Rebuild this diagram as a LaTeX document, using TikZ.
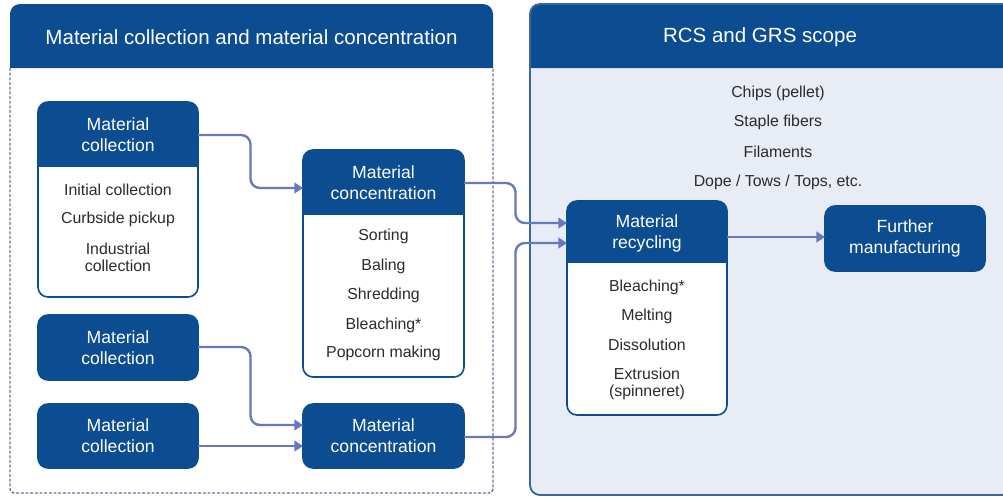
\documentclass[tikz,border=0pt]{standalone}
\usepackage{fontspec}
\setmainfont{Liberation Sans}
\usetikzlibrary{arrows.meta,calc}

\definecolor{hdrblue}{HTML}{0C4D92}
\definecolor{flowblue}{HTML}{6678BE}
\definecolor{scopefill}{HTML}{E7ECF5}
\definecolor{scopeline}{HTML}{3A67A0}
\definecolor{bodytext}{HTML}{2B2B2B}
\definecolor{dashgray}{HTML}{6A7690}

\tikzset{
  paneltitle/.style={text=white, font=\fontsize{15.4}{18}\selectfont, inner sep=0pt},
  boxframe/.style={draw=none, inner sep=0pt, outer sep=0pt},
  boxline/.style={draw=hdrblue, line width=1.2pt},
  headtxt/.style={text=white, align=center, inner sep=0pt,
    font=\fontsize{13.2}{15.8}\selectfont},
  itemtxt/.style={text=bodytext, align=center, inner sep=0pt,
    font=\fontsize{11.9}{12.8}\selectfont},
  flow/.style={draw=flowblue, line width=1.8pt, rounded corners=7pt,
    -{Triangle[length=6.5pt,width=8pt]}},
  elbow/.style={to path={-| ($(\tikztostart)!0.5!(\tikztotarget)$) |- (\tikztotarget)}},
  dashframe/.style={draw=dashgray, line width=1.1pt, dash pattern=on 2.2pt off 1.3pt}
}

% stage box: name, x1, y1, x2, y2, y of header bottom
\newcommand\stagebox[6]{%
  \node[boxframe, minimum width={(#4-#2)*0.75pt}, minimum height={(#5-#3)*0.75pt}]
    (#1) at ({(#2+#4)/2},{(#3+#5)/2}) {};
  \coordinate (#1-hb) at (#4,#6);
  \fill[white, rounded corners=7.5pt] (#1.north west) rectangle (#1.south east);
  \begin{scope}
    \clip[rounded corners=7.5pt] (#1.north west) rectangle (#1.south east);
    \fill[hdrblue] (#1.north west) rectangle (#1-hb);
  \end{scope}
  \draw[boxline, rounded corners=7.5pt] (#1.north west) rectangle (#1.south east);
}

\begin{document}
\begin{tikzpicture}[x=0.75pt, y=-0.75pt]
  \clip (0,0) rectangle (1003,497);
  \fill[white] (0,0) rectangle (1003,497);

  % left panel: collection and concentration
  \fill[hdrblue] (10,68) [rounded corners=7.5pt] -- (10,4) -- (493,4)
    [sharp corners] -- (493,68) -- cycle;
  \draw[dashframe, rounded corners=3pt] (10,68) -- (10,493) -- (493,493) -- (493,68);
  \node[paneltitle] (lefttitle) at (251.5,37)
    {Material collection and material concentration};

  % right panel: certification scope
  \fill[scopefill, rounded corners=7.5pt] (530,4) rectangle (1012,495);
  \fill[hdrblue] (530,68) [rounded corners=7.5pt] -- (530,4) -- (1012,4)
    [sharp corners] -- (1012,68) -- cycle;
  \draw[scopeline, line width=1.4pt, rounded corners=7.5pt] (530,4) rectangle (1012,495);
  \node[paneltitle] (righttitle) at (760,37) {RCS and GRS scope};

  \node[itemtxt] (out1) at (778,93) {Chips (pellet)};
  \node[itemtxt] (out2) at (778,122) {Staple fibers};
  \node[itemtxt] (out3) at (778,152) {Filaments};
  \node[itemtxt] (out4) at (778,182) {Dope / Tows / Tops, etc.};

  % stage boxes
  \stagebox{mc1}{38}{102}{198}{297}{167}
  \node[headtxt] (mc1h) at (118,134.5) {Material\\collection};
  \node[itemtxt] (mc1a) at (118,190) {Initial collection};
  \node[itemtxt] (mc1b) at (118,219) {Curbside pickup};
  \node[itemtxt] (mc1c) at (118,257.5) {Industrial\\collection};

  \stagebox{mconc1}{303}{150}{464}{377}{215}
  \node[headtxt] (mconc1h) at (383.5,182.5) {Material\\concentration};
  \node[itemtxt] (mconc1a) at (383.5,236) {Sorting};
  \node[itemtxt] (mconc1b) at (383.5,266) {Baling};
  \node[itemtxt] (mconc1c) at (383.5,295) {Shredding};
  \node[itemtxt] (mconc1d) at (383.5,325) {Bleaching*};
  \node[itemtxt] (mconc1e) at (383.5,353) {Popcorn making};

  \stagebox{mc2}{38}{315}{198}{380}{380}
  \node[headtxt] (mc2h) at (118,347.5) {Material\\collection};

  \stagebox{mc3}{38}{404}{198}{468}{468}
  \node[headtxt] (mc3h) at (118,436) {Material\\collection};

  \stagebox{mconc2}{303}{404}{464}{468}{468}
  \node[headtxt] (mconc2h) at (383.5,436) {Material\\concentration};

  \stagebox{mrec}{567}{201}{727}{415}{263}
  \node[headtxt] (mrech) at (647,233) {Material\\recycling};
  \node[itemtxt] (mreca) at (647,287) {Bleaching*};
  \node[itemtxt] (mrecb) at (647,316) {Melting};
  \node[itemtxt] (mrecc) at (647,345) {Dissolution};
  \node[itemtxt] (mrecd) at (647,384) {Extrusion\\(spinneret)};

  \stagebox{further}{825}{206}{985}{271}{271}
  \node[headtxt] (furtherh) at (905,238.5) {Further\\manufacturing};

  % material flow
  \draw[flow] ($(mc1.north east)+(0,33)$) to[elbow] ($(mconc1.north west)+(0,38)$);
  \draw[flow] ($(mc2.north east)+(0,32)$) to[elbow] ($(mconc2.north west)+(0,21)$);
  \draw[flow] ($(mc3.north east)+(0,42)$) -- ($(mconc2.north west)+(0,42)$);
  \draw[flow] ($(mconc1.north east)+(0,33)$) to[elbow] ($(mrec.north west)+(0,22)$);
  \draw[flow] ($(mconc2.north east)+(0,33)$) to[elbow] ($(mrec.north west)+(0,42)$);
  \draw[flow] ($(mrec.north east)+(0,36)$) -- ($(further.north west)+(0,31)$);
\end{tikzpicture}
\end{document}
